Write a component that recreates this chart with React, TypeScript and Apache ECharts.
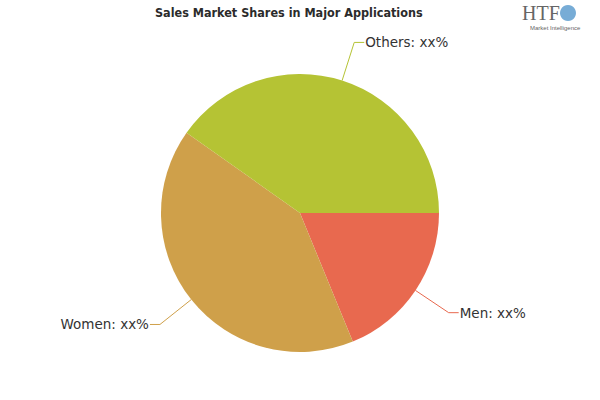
import React, { useEffect, useRef } from "react";
import * as echarts from "echarts";

const categories = ["Men", "Women", "Others"];
const values = [18.8, 41.0, 40.2];
const labelTexts = ["Men: xx%", "Women: xx%", "Others: xx%"];
const colors = ["#E8694F", "#CFA04A", "#B5C334"];

export default function App() {
  const ref = useRef<HTMLDivElement>(null);
  useEffect(() => {
    if (!ref.current) return;
    const chart = echarts.init(ref.current, undefined, { renderer: "svg" });
    chart.setOption({
      animation: false,
      backgroundColor: "#ffffff",
      title: {
        text: "Sales Market Shares in Major Applications",
        left: 150,
        top: 1,
        textStyle: {
          fontFamily: "Impact, 'Liberation Sans Narrow', 'DejaVu Sans Condensed', sans-serif",
          fontWeight: "bold",
          fontSize: 12.5,
          color: "#2b2b2b",
        },
      },
      graphic: [
        {
          type: "text",
          left: 522,
          top: 3,
          style: { text: "HTF", font: "20px 'Liberation Serif', serif", fill: "#666" },
        },
        {
          type: "circle",
          shape: { cx: 568, cy: 13, r: 8 },
          style: { fill: "#4a90c8", opacity: 0.75 },
        },
        {
          type: "text",
          left: 530,
          top: 25,
          style: { text: "Market Intelligence", font: "6px sans-serif", fill: "#666" },
        },
      ],
      series: [
        {
          type: "pie",
          center: [300, 213],
          radius: 139,
          startAngle: 0,
          clockwise: true,
          data: categories.map((c, i) => ({
            name: c,
            value: values[i],
            itemStyle: { color: colors[i] },
            label: { formatter: labelTexts[i] },
          })),
          label: {
            show: true,
            color: "#333",
            fontSize: 13.5,
            fontFamily: "'DejaVu Sans', Tahoma, sans-serif",
            distanceToLabelLine: 1,
          },
          labelLine: {
            show: true,
            length: 40,
            length2: 10,
            lineStyle: { width: 1 },
          },
          emphasis: { disabled: true },
        },
      ],
    });
    return () => chart.dispose();
  }, []);
  return <div ref={ref} style={{ width: 600, height: 400, position: "absolute", left: 0, top: 0 }} />;
}
